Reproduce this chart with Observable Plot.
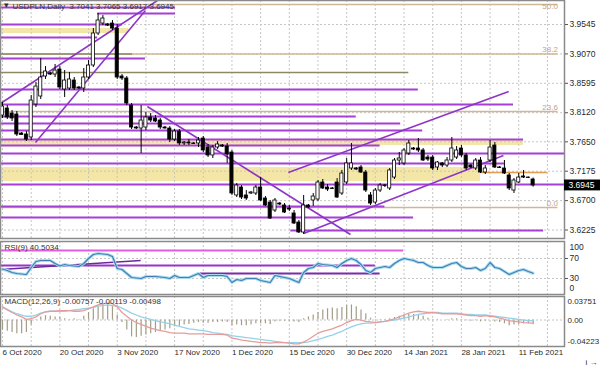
<!DOCTYPE html>
<html><head><meta charset="utf-8">
<script src="https://cdn.jsdelivr.net/npm/d3@7"></script>
<script src="https://cdn.jsdelivr.net/npm/@observablehq/plot@0.6"></script>
<style>
html,body{margin:0;padding:0;background:#fff;}
#chart{position:relative;width:600px;height:367px;overflow:hidden;background:#fff;}
#chart svg{position:absolute;left:0;}
</style></head><body><div id="chart"></div>
<script>
// ---------- data ----------
const titleText = "USDPLN,Daily  3.7041 3.7065 3.6917 3.6945";
const rsiTitle = "RSI(9) 40.5034";
const macdTitle = "MACD(12,26,9) -0.00757 -0.00119 -0.00498";
const dateLabels = ["6 Oct 2020","20 Oct 2020","3 Nov 2020","17 Nov 2020","1 Dec 2020","15 Dec 2020","30 Dec 2020","14 Jan 2021","28 Jan 2021","11 Feb 2021"];
const dateLabelBars = [0,12,24,36,48,60,72,84,96,108];
const gridBars = [0,6,12,18,24,30,36,42,48,54,60,66,72,78,84,90,96,102,108,114];
const priceTicks = [3.9545,3.9070,3.8595,3.8120,3.7650,3.7175,3.6700,3.6225];
const lastPrice = 3.6945;

const opens = [3.8075,3.8188,3.8107,3.8091,3.7784,3.7768,3.7720,3.8253,3.8382,3.8705,
3.8753,3.8737,3.8818,3.8495,3.8511,3.8640,3.8527,3.8511,3.8689,3.8883,
3.9400,3.9561,3.9545,3.9561,3.9480,3.8705,3.8673,3.8236,3.7881,3.7865,
3.7881,3.8043,3.8027,3.7994,3.7881,3.7865,3.7687,3.7816,3.7623,3.7639,
3.7623,3.7623,3.7703,3.7558,3.7429,3.7558,3.7590,3.7574,3.7477,3.6783,
3.6912,3.6783,3.6815,3.6815,3.6912,3.6734,3.6669,3.6540,3.6653,3.6621,
3.6572,3.6492,3.6346,3.6185,3.6621,3.6702,3.6718,3.6993,3.6912,3.6896,
3.6993,3.6815,3.6993,3.7219,3.7219,3.7235,3.7154,3.6783,3.6669,3.6863,
3.6944,3.6896,3.7073,3.7348,3.7300,3.7461,3.7542,3.7542,3.7510,3.7396,
3.7396,3.7235,3.7300,3.7267,3.7348,3.7396,3.7542,3.7429,3.7267,3.7219,
3.7348,3.7154,3.7348,3.7590,3.7235,3.7219,3.7106,3.6863,3.6993,3.7090,
3.7073,3.7041];
const highs = [3.8285,3.8236,3.8156,3.8140,3.7800,3.7816,3.8398,3.8608,3.8996,3.8866,
3.8770,3.8899,3.8866,3.8802,3.8770,3.8689,3.8543,3.8834,3.8963,3.9480,
3.9723,3.9690,3.9561,3.9610,3.9545,3.8737,3.8705,3.8269,3.7897,3.8236,
3.8123,3.8107,3.8075,3.8027,3.7897,3.7897,3.7849,3.7849,3.7655,3.7687,
3.7639,3.7720,3.7736,3.7607,3.7590,3.7655,3.7607,3.7623,3.7510,3.6976,
3.6944,3.6863,3.6847,3.6944,3.7073,3.6766,3.6702,3.6734,3.6669,3.6653,
3.6621,3.6540,3.6379,3.6783,3.6637,3.6815,3.7025,3.7041,3.6960,3.6912,
3.7057,3.7187,3.7380,3.7623,3.7235,3.7267,3.7187,3.6831,3.6896,3.6976,
3.6960,3.7219,3.7380,3.7477,3.7542,3.7671,3.7558,3.7703,3.7542,3.7429,
3.7429,3.7332,3.7316,3.7396,3.7720,3.7574,3.7590,3.7461,3.7283,3.7380,
3.7396,3.7267,3.7671,3.7639,3.7251,3.7348,3.7138,3.7057,3.7138,3.7187,
3.7081,3.7065];
const lows = [3.8027,3.8010,3.7978,3.7736,3.7752,3.7655,3.7671,3.8204,3.8333,3.8657,
3.8721,3.8689,3.8495,3.8366,3.8479,3.8479,3.8495,3.8446,3.8657,3.8850,
3.9367,3.9529,3.9513,3.9448,3.8657,3.8640,3.8236,3.7849,3.7849,3.7461,
3.7833,3.7962,3.7962,3.7849,3.7857,3.7639,3.7655,3.7590,3.7590,3.7590,
3.7607,3.7558,3.7477,3.7396,3.7380,3.7526,3.7558,3.7300,3.6783,3.6750,
3.6718,3.6702,3.6799,3.6783,3.6686,3.6605,3.6395,3.6508,3.6621,3.6492,
3.6524,3.6314,3.6169,3.6153,3.6572,3.6605,3.6686,3.6880,3.6847,3.6880,
3.6734,3.6783,3.6960,3.7187,3.7187,3.7138,3.6831,3.6621,3.6637,3.6831,
3.6912,3.6863,3.7041,3.7267,3.7267,3.7429,3.7510,3.7477,3.7332,3.7332,
3.7187,3.7187,3.7235,3.7235,3.7316,3.7364,3.7396,3.7187,3.7219,3.7187,
3.7138,3.7122,3.7316,3.7219,3.7219,3.7122,3.6863,3.6815,3.6976,3.7057,
3.7057,3.6917];
const closes = [3.8220,3.8043,3.8027,3.7768,3.7760,3.7687,3.8317,3.8543,3.8689,3.8786,
3.8737,3.8802,3.8527,3.8640,3.8657,3.8511,3.8511,3.8689,3.8883,3.9400,
3.9610,3.9642,3.9529,3.9480,3.8689,3.8673,3.8269,3.7881,3.7865,3.7994,
3.8043,3.7994,3.7978,3.7881,3.7865,3.7687,3.7816,3.7623,3.7639,3.7623,
3.7615,3.7671,3.7510,3.7429,3.7558,3.7607,3.7574,3.7445,3.6815,3.6944,
3.6750,3.6734,3.6831,3.6912,3.6702,3.6621,3.6411,3.6702,3.6637,3.6508,
3.6556,3.6330,3.6185,3.6621,3.6588,3.6766,3.6993,3.6896,3.6880,3.6888,
3.6750,3.7138,3.7300,3.7300,3.7203,3.7154,3.6863,3.6653,3.6863,3.6944,
3.6936,3.7187,3.7348,3.7380,3.7510,3.7623,3.7526,3.7510,3.7348,3.7364,
3.7219,3.7316,3.7267,3.7348,3.7542,3.7510,3.7429,3.7219,3.7235,3.7348,
3.7154,3.7219,3.7558,3.7235,3.7227,3.7138,3.6896,3.7025,3.7073,3.7073,
3.7065,3.6945];

const fibLevels = [
  {label:"50.0", p:3.9868},
  {label:"38.2", p:3.9070},
  {label:"23.6", p:3.8140},
  {label:"0.0",  p:3.6588}
];
// horizontal support / resistance lines: price, from bar, to bar
const purpleLines = [
  {p:3.9820, from:-0.42, to:36.2},
  {p:3.9723, from:19.9, to:36.2},
  {p:3.9545, from:-0.42, to:25.1},
  {p:3.9335, from:-0.42, to:19.9},
  {p:3.8996, from:-0.42, to:29.9},
  {p:3.8495, from:-0.42, to:87.0},
  {p:3.8253, from:-0.42, to:106.9},
  {p:3.8059, from:-0.42, to:74.0},
  {p:3.7946, from:-0.42, to:83.3},
  {p:3.7833, from:-0.42, to:87.9},
  {p:3.7687, from:-0.42, to:109.0},
  {p:3.7590, from:-0.42, to:79.0},
  {p:3.7461, from:-0.42, to:117.57},
  {p:3.7300, from:-0.42, to:105.0},
  {p:3.6960, from:-0.42, to:117.57},
  {p:3.6604, from:-0.42, to:80.0},
  {p:3.6427, from:-0.42, to:86.0},
  {p:3.6217, from:60.3, to:113.2}
];
const oliveLines = [
  {p:3.9070, from:-0.42, to:27.2},
  {p:3.8770, from:-0.42, to:85.0}
];
const orangeLines = [
  {p:3.7154, from:100.0, to:114.0}
];
const bands = [
  {lo:3.9400, hi:3.9480, from:-0.42, to:26.4},
  {lo:3.7590, hi:3.7671, from:-0.42, to:109.0},
  {lo:3.7009, hi:3.7235, from:-0.42, to:100.0}
];
const trendLines = [
  {from:-0.42, p1:3.8269, to:32.4, p2:3.9933},
  {from:6.9,  p1:3.7639, to:29.9, p2:3.9771},
  {from:30.3, p1:3.8220, to:72.8, p2:3.6153},
  {from:59.8, p1:3.7154, to:105.9, p2:3.8463},
  {from:63.0, p1:3.6169, to:104.8, p2:3.7429}
];

const rsiValues = [49,46,42,40,39,38,52,64,66,66,
66,60,55,58,56,55,54,60,70,78,
80,79,78,74,50,48,40,32,31,30,
34,34,34,33,32,30,36,32,32,32,
36,40,32,36,36,36,36,34,22,28,
26,30,30,30,26,24,22,36,34,32,
30,26,22,42,50,52,60,58,57,56,
52,60,66,70,66,58,46,42,50,52,
54,52,60,66,70,68,66,62,62,56,
52,52,52,56,60,62,54,50,50,52,
46,50,62,52,50,44,38,42,46,48,
44,40.5];
const rsiLevels = [70,30];
const rsiLines = [
  {v:86, from:-0.42, to:83.9, color:"#e05ce0"},
  {v:56, from:-0.42, to:78.0, color:"#9a32c8"},
  {v:40, from:41.4, to:79.0, color:"#7b2aa8"}
];
const rsiTrend = [{from:-0.42, v1:48, to:28.9, v2:66}];

const macdValues = [0.021,0.016,0.012,0.008,0.005,0.001,0.002,0.005,0.010,0.013,
0.014,0.014,0.015,0.015,0.015,0.014,0.014,0.015,0.018,0.021,
0.024,0.026,0.027,0.026,0.021,0.012,0.006,0.000,-0.004,-0.007,
-0.010,-0.013,-0.015,-0.017,-0.018,-0.020,-0.021,-0.021,-0.021,-0.022,
-0.022,-0.022,-0.022,-0.023,-0.023,-0.023,-0.023,-0.024,-0.029,-0.030,
-0.032,-0.033,-0.034,-0.035,-0.036,-0.036,-0.037,-0.036,-0.036,-0.036,
-0.037,-0.038,-0.038,-0.035,-0.031,-0.026,-0.021,-0.018,-0.016,-0.014,
-0.011,-0.008,-0.004,-0.001,0.001,0.000,-0.002,-0.003,-0.004,-0.003,
-0.002,0.000,0.002,0.005,0.008,0.011,0.013,0.014,0.013,0.012,
0.012,0.011,0.010,0.010,0.010,0.010,0.009,0.008,0.007,0.007,
0.006,0.007,0.006,0.005,0.003,0.001,-0.001,-0.002,-0.003,-0.004,
-0.0045,-0.0050];
const signalValues = [0.021,0.017,0.013,0.010,0.008,0.006,0.006,0.008,0.011,0.013,
0.014,0.014,0.014,0.014,0.015,0.016,0.017,0.018,0.019,0.020,
0.022,0.023,0.024,0.023,0.022,0.019,0.015,0.011,0.008,0.005,
0.003,0.001,-0.001,-0.003,-0.004,-0.006,-0.008,-0.010,-0.012,-0.014,
-0.015,-0.016,-0.017,-0.018,-0.020,-0.021,-0.022,-0.023,-0.025,-0.026,
-0.027,-0.028,-0.029,-0.030,-0.031,-0.032,-0.033,-0.034,-0.035,-0.036,
-0.036,-0.036,-0.036,-0.036,-0.035,-0.033,-0.031,-0.029,-0.026,-0.024,
-0.021,-0.018,-0.014,-0.011,-0.008,-0.006,-0.005,-0.005,-0.004,-0.003,
-0.002,-0.001,0.000,0.002,0.003,0.005,0.007,0.009,0.010,0.011,
0.012,0.012,0.011,0.011,0.011,0.011,0.010,0.009,0.009,0.008,
0.008,0.008,0.007,0.006,0.005,0.004,0.003,0.002,0.001,0.000,
-0.001,-0.0012];
const histValues = [-0.016,-0.018,-0.020,-0.022,-0.022,-0.020,-0.008,0.001,0.005,0.007,
0.006,0.005,0.004,0.002,0.001,0.002,0.001,0.006,0.012,0.018,
0.022,0.025,0.026,0.022,0.008,-0.004,-0.016,-0.027,-0.028,-0.026,
-0.024,-0.022,-0.020,-0.018,-0.016,-0.014,-0.011,-0.010,-0.008,-0.007,
-0.005,-0.004,-0.005,-0.005,-0.004,-0.004,-0.003,-0.004,-0.009,-0.008,
-0.009,-0.009,-0.008,-0.006,-0.006,-0.006,-0.007,-0.003,-0.002,-0.002,
-0.002,-0.003,-0.004,0.002,0.005,0.008,0.012,0.016,0.018,0.019,
0.018,0.020,0.023,0.024,0.021,0.016,0.010,0.003,0.001,0.001,
0.001,0.002,0.004,0.006,0.008,0.009,0.009,0.008,0.006,0.003,
0.001,0.001,0.000,0.001,0.002,0.002,0.001,-0.001,-0.002,-0.001,
-0.003,-0.002,0.000,-0.003,-0.004,-0.006,-0.009,-0.008,-0.007,-0.006,
-0.006,-0.0076];
const macdTicks = [0.03751, 0.00, -0.04223];

// ---------- build ----------
const bars = opens.map((o, i) => ({i, open:o, high:highs[i], low:lows[i], close:closes[i]}));
const xDomain = [-0.42, 117.57];
const xMin = xDomain[0], xMax = xDomain[1];
const FONT = "'Liberation Sans', Arial, sans-serif";
const TXT = "#2a2a2a";
const PURPLE = "#a63fd4";
const GRID = {stroke:"#c6c6c6", strokeDasharray:"2,2", strokeWidth:1};
const base = {
  width:600, marginLeft:0, marginRight:36,
  x:{domain:xDomain, axis:null},
  style:{fontFamily:FONT, fontSize:"8px", color:TXT, background:"transparent", overflow:"visible"}
};
const chart = document.getElementById("chart");
function place(svg, top){ svg.style.top = top + "px"; chart.appendChild(svg); }

// main price panel
const main = Plot.plot({
  ...base, height:240, marginTop:0, marginBottom:2,
  y:{domain:[3.6088, 3.9933], axis:null},
  marks:[
    Plot.rect(bands, {x1:"from", x2:"to", y1:"lo", y2:"hi", fill:"#f4e6a6"}),
    Plot.ruleX(gridBars, GRID),
    Plot.ruleY(priceTicks, GRID),
    Plot.ruleY(fibLevels, {y:"p", x1:() => xMin, x2:() => 116.2, stroke:"#cdb896", strokeWidth:1.5}),
    Plot.ruleY(oliveLines, {y:"p", x1:"from", x2:"to", stroke:"#8c8a62", strokeWidth:1.5}),
    Plot.ruleY(purpleLines, {y:"p", x1:"from", x2:"to", stroke:PURPLE, strokeWidth:2}),
    Plot.ruleY(orangeLines, {y:"p", x1:"from", x2:"to", stroke:"#e49a50", strokeWidth:1.5}),
    Plot.link(trendLines, {x1:"from", y1:"p1", x2:"to", y2:"p2", stroke:"#8e35c8", strokeWidth:1.6}),
    Plot.ruleX(bars, {x:"i", y1:"low", y2:"high", stroke:"#000", strokeWidth:1}),
    Plot.rect(bars, {x1:d => d.i - 0.33, x2:d => d.i + 0.33, y1:"open", y2:"close",
      fill:d => d.close >= d.open ? "#fff" : "#000", stroke:"#000", strokeWidth:0.8}),
    Plot.text(fibLevels.slice(0, 1), {x:() => 116.2, y:"p", text:"label", textAnchor:"end", dy:2, fill:"#c9a27c", fontSize:8}),
    Plot.text(fibLevels.slice(1), {x:() => 116.2, y:"p", text:"label", textAnchor:"end", dy:-4, fill:"#c9a27c", fontSize:8}),
    Plot.frame({stroke:"#8a8a8a", strokeWidth:1.5}),
    Plot.axisY(priceTicks, {anchor:"right", tickFormat:d3.format(".4f"), tickSize:3, tickPadding:2, fontSize:8.5, fill:TXT, stroke:"#555"}),
    Plot.rect([lastPrice], {x1:() => xMax, x2:() => xMax + 7.6, y1:d => d - 0.0088, y2:d => d + 0.0088, fill:"#000"}),
    Plot.text([lastPrice], {x:() => xMax, y:d => d, text:d => d.toFixed(4), dx:4, textAnchor:"start", fill:"#fff", fontSize:8.5}),
    Plot.text(["\u25BE"], {frameAnchor:"top-left", dx:3, dy:1, fill:"#333", fontSize:9}),
    Plot.text([titleText], {frameAnchor:"top-left", dx:12, dy:3, fill:"#333", fontSize:8})
  ]
});
place(main, 0);

// RSI panel
const rsiData = rsiValues.map((v, i) => ({i, v}));
const rsi = Plot.plot({
  ...base, height:54, marginTop:0, marginBottom:1,
  y:{domain:[-2, 104], axis:null},
  marks:[
    Plot.ruleX(gridBars, GRID),
    Plot.ruleY(rsiLevels, GRID),
    Plot.ruleY(rsiLines, {y:"v", x1:"from", x2:"to", stroke:"color", strokeWidth:1.8}),
    Plot.link(rsiTrend, {x1:"from", y1:"v1", x2:"to", y2:"v2", stroke:"#6b2a9c", strokeWidth:1.5}),
    Plot.line(rsiData, {x:"i", y:"v", stroke:"#a9dcef", strokeWidth:3}),
    Plot.line(rsiData, {x:"i", y:"v", stroke:"#3f7fb5", strokeWidth:1.2}),
    Plot.frame({stroke:"#8a8a8a", strokeWidth:1.5}),
    Plot.text([rsiTitle], {frameAnchor:"top-left", dx:4, dy:3, fill:"#333", fontSize:8}),
    Plot.axisY([70, 30], {anchor:"right", tickSize:3, tickPadding:2, fontSize:8.5, fill:TXT, stroke:"#555"}),
    Plot.text([100], {x:() => xMax, y:d => d, text:d => String(d), dx:5, dy:4, textAnchor:"start", fill:TXT, fontSize:8.5}),
    Plot.text([0], {x:() => xMax, y:d => d, text:d => String(d), dx:5, dy:-5, textAnchor:"start", fill:TXT, fontSize:8.5})
  ]
});
place(rsi, 241);

// MACD panel
const macdData = macdValues.map((v, i) => ({i, macd:v, signal:signalValues[i], hist:histValues[i]}));
const macd = Plot.plot({
  ...base, height:72, marginTop:1, marginBottom:21,
  y:{domain:[macdTicks[2], macdTicks[0]], axis:null},
  marks:[
    Plot.ruleX(gridBars, GRID),
    Plot.ruleY([0], GRID),
    Plot.ruleX(macdData, {x:"i", y1:0, y2:"hist", stroke:"#a39c88", strokeWidth:1.2}),
    Plot.line(macdData, {x:"i", y:"signal", stroke:"#95d2e8", strokeWidth:1.3}),
    Plot.line(macdData, {x:"i", y:"macd", stroke:"#e79c9c", strokeWidth:1.3}),
    Plot.frame({stroke:"#8a8a8a", strokeWidth:1.5}),
    Plot.text([macdTitle], {frameAnchor:"top-left", dx:4, dy:2, fill:"#333", fontSize:8}),
    Plot.text([macdTicks[0]], {x:() => xMax, y:d => d, text:d => d.toFixed(5), dx:3, dy:5, textAnchor:"start", fill:TXT, fontSize:8}),
    Plot.text([macdTicks[1]], {x:() => xMax, y:d => d, text:d => d.toFixed(2), dx:3, textAnchor:"start", fill:TXT, fontSize:8}),
    Plot.text([macdTicks[2]], {x:() => xMax, y:d => d, text:d => d.toFixed(5), dx:3, dy:-5, textAnchor:"start", fill:TXT, fontSize:8}),
    Plot.axisX(dateLabelBars, {anchor:"bottom", tickSize:0, tickPadding:3, textAnchor:"start",
      tickFormat:d => dateLabels[dateLabelBars.indexOf(d)], fontSize:8, fill:TXT})
  ]
});
place(macd, 295);
</script></body></html>
